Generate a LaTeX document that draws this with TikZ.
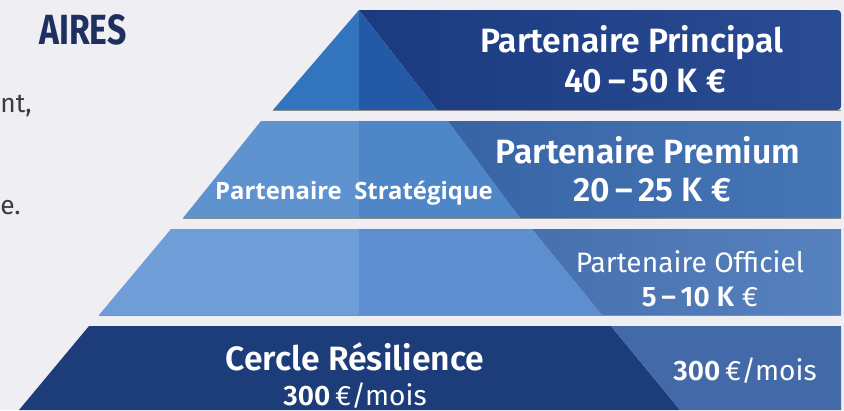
\documentclass[tikz,border=0pt]{standalone}
\usepackage{fontspec}
\usepackage{graphicx}
\setmainfont{Fira Sans}[BoldFont={Fira Sans SemiBold}]
\newfontfamily\opensans{Open Sans}
\newfontfamily\headfont{Fira Sans Bold}
\usetikzlibrary{positioning}
\definecolor{paper}{HTML}{EFEEF3}
\definecolor{inkNavy}{HTML}{1F2F60}
\definecolor{inkGray}{HTML}{3A3A42}
\definecolor{topLight}{HTML}{3274BE}
\definecolor{topMid}{HTML}{2459A6}
\definecolor{topDarkA}{HTML}{1B3A80}
\definecolor{topDarkB}{HTML}{2A4C93}
\definecolor{premLight}{HTML}{5E93D0}
\definecolor{premMid}{HTML}{4F86C8}
\definecolor{premDarkA}{HTML}{3864A6}
\definecolor{premDarkB}{HTML}{4676B5}
\definecolor{offLight}{HTML}{6E9DD8}
\definecolor{offMid}{HTML}{5C8ED0}
\definecolor{offDarkA}{HTML}{4770AE}
\definecolor{offDarkB}{HTML}{5682BF}
\definecolor{cercleDark}{HTML}{1D3C7A}
\definecolor{cercleLight}{HTML}{4369A8}
\tikzset{
  every node/.style={
    text=white,
    inner sep=0pt,
    anchor=base
  },
  tier title/.style={
    font=\bfseries\fontsize{19.2}{22}\selectfont
  },
  tier price/.style={
    font=\bfseries\fontsize{19.2}{22}\selectfont
  },
  tier small/.style={
    font=\fontsize{16}{19}\selectfont
  },
  side label/.style={
    font=\opensans\bfseries\fontsize{13.6}{16}\selectfont
  },
  page heading/.style={
    text=inkNavy,
    anchor=base west,
    font=\headfont\fontsize{24}{26}\selectfont
  },
  page text/.style={
    text=inkGray,
    anchor=base west,
    font=\fontsize{15}{18}\selectfont
  },
  band edge/.style={
    draw=black!45,
    line width=0.3pt
  }
}

\begin{document}
\begin{tikzpicture}[x=0.02cm,y=-0.02cm]
    \fill[paper] (0,0) rectangle (844,410);
    \useasboundingbox (0,0) rectangle (844,410);

    \node [page heading] (heading) at (39,44) {\scalebox{0.8}[1]{AIRES}};
    \node [page text] (textA) at (0,112) {nt,};
    \node [page text] (textB) at (0,214) {e.};

    \shade[left color=topDarkA, right color=topDarkB] (359,10) -- (838,10) [rounded corners=2pt] -- (841,10) -- (841,110) [sharp corners] -- (437,110) -- cycle;
    \fill[topLight] (359,10) -- (273,110) -- (359,110) -- cycle;
    \fill[topMid] (359,10) -- (359,110) -- (437,110) -- cycle;
    \draw[band edge] (273,110) -- (841,110);

    \fill[premLight] (261,121) -- (359,121) -- (359,218) -- (183,218) -- cycle;
    \fill[premMid] (359,121) -- (448,121) -- (520,218) -- (359,218) -- cycle;
    \shade[left color=premDarkA, right color=premDarkB] (448,121) -- (841,121) -- (841,218) -- (520,218) -- cycle;
    \draw[band edge] (183,218) -- (841,218);

    \fill[offLight] (171,229) -- (359,229) -- (359,315) -- (99,315) -- cycle;
    \fill[offMid] (359,229) -- (532,229) -- (602,315) -- (359,315) -- cycle;
    \shade[left color=offDarkA, right color=offDarkB] (532,229) -- (841,229) -- (841,315) -- (602,315) -- cycle;
    \draw[band edge] (99,315) -- (841,315);

    \fill[cercleDark] (89,326) -- (611,326) -- (680,410) -- (19,410) -- cycle;
    \fill[cercleLight] (611,326) -- (841,326) -- (841,410) -- (680,410) -- cycle;

    \node [tier title] (principal) at (632,52) {Partenaire Principal};
    \node [tier price] (principalPrice) at (645,92) {40\,–\,50 K €};

    \node [tier title] (premium) at (648,163) {Partenaire Premium};
    \node [tier price] (premiumPrice) at (652,201) {20\,–\,25 K €};
    \node [side label] (strategique) at (354,199) {Partenaire\ \ Stratégique};

    \node [tier small] (officiel) at (690,272) {Partenaire Officiel};
    \node [tier small] (officielPrice) at (700,306) {\textbf{5\,–\,10 K} €};

    \node [tier title] (cercle) at (355,370) {Cercle Résilience};
    \node [tier small] (cerclePrice) at (355,405) {\textbf{300}\,€/mois};
    \node [tier small] (monthly) at (745,380) {\textbf{300}\,€/mois};
  \end{tikzpicture}
\end{document}
